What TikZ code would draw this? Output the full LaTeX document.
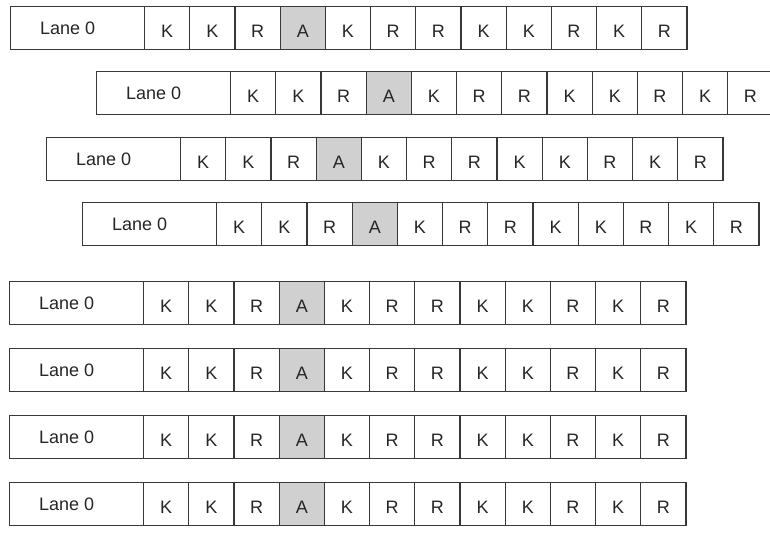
\documentclass[tikz,border=0pt]{standalone}
\usepackage{fontspec}
\setmainfont{Liberation Sans}
\definecolor{linec}{HTML}{383838}
\definecolor{agray}{HTML}{D0D0D0}
\tikzset{
  lanebox/.style={draw=linec, line width=1.1pt, minimum width=134pt, minimum height=42.5pt,
    inner sep=0pt, anchor=north west, font=\fontsize{18}{18}\selectfont,
    text height=14pt, text depth=0pt, text=black!85},
  cellbox/.style={draw=linec, line width=1.1pt, minimum width=45.2pt, minimum height=42.5pt,
    inner sep=0pt, anchor=north west, font=\fontsize{18}{18}\selectfont,
    text height=20pt, text depth=0pt, text=black!85}
}
\begin{document}
\begin{tikzpicture}[x=1pt,y=-1pt]
\useasboundingbox (0,0) rectangle (770,544);
\foreach \r/\x/\y in {1/10/6, 2/96/71, 3/46/137, 4/82/202, 5/9/281, 6/9/348, 7/9/415, 8/9/482} {
  \node[lanebox] (L\r) at (\x,\y) {\hspace*{-20pt}Lane 0};
  \foreach \f/\t [count=\i] in {white/K, white/K, white/R, agray/A, white/K, white/R, white/R, white/K, white/K, white/R, white/K, white/R} {
    \node[cellbox, fill=\f] (C\r-\i) at ({\x+134+(\i-1)*45.2},\y) {\t};
  }
}
\end{tikzpicture}
\end{document}
